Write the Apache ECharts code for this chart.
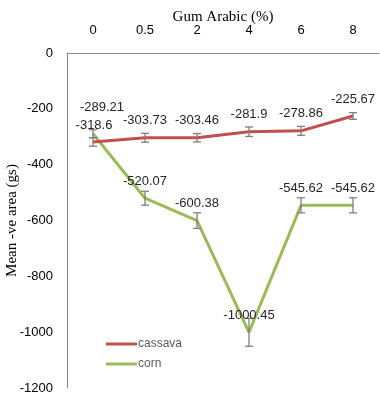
<!DOCTYPE html>
<html>
<head>
<meta charset="utf-8">
<script src="https://cdn.jsdelivr.net/npm/echarts@6/dist/echarts.min.js"></script>
<style>
  html, body { margin: 0; padding: 0; background: #fff; }
  #chart { width: 380px; height: 400px; }
</style>
</head>
<body>
<div id="chart"></div>
<script>
// Gum Arabic levels (%)
const categories = ['0', '0.5', '2', '4', '6', '8']
const cassava = [-318.6, -303.73, -303.46, -281.9, -278.86, -225.67]
const corn = [-289.21, -520.07, -600.38, -1000.45, -545.62, -545.62]
// error bar half-widths
const cassavaErr = [15, 16, 15, 17, 16, 12]
const cornErr = [14, 25, 28, 50, 27, 27]

const chart = echarts.init(document.getElementById('chart'))

// error bars + value labels, drawn through the axes
function errorSeries(values, errs, labelShift) {
  return {
    type: 'custom',
    z: 5,
    silent: true,
    data: values.map((v, i) => [i, v - errs[i], v + errs[i], v]),
    renderItem(params, api) {
      const lo = api.coord([api.value(0), api.value(1)])
      const hi = api.coord([api.value(0), api.value(2)])
      const pt = api.coord([api.value(0), api.value(3)])
      const shift = labelShift[params.dataIndex] || [0, 0]
      const w = 4
      const style = { stroke: '#7f7f7f', lineWidth: 1.3 }
      return {
        type: 'group',
        children: [
          { type: 'line', shape: { x1: hi[0], y1: hi[1], x2: lo[0], y2: lo[1] }, style },
          { type: 'line', shape: { x1: hi[0] - w, y1: hi[1], x2: hi[0] + w, y2: hi[1] }, style },
          { type: 'line', shape: { x1: lo[0] - w, y1: lo[1], x2: lo[0] + w, y2: lo[1] }, style },
          {
            type: 'text',
            x: pt[0] + shift[0],
            y: pt[1] - 17 + shift[1],
            style: {
              text: String(api.value(3)),
              fill: '#262626',
              font: '13px "Liberation Sans"',
              align: 'center',
              verticalAlign: 'middle'
            }
          }
        ]
      }
    }
  }
}

chart.setOption({
  animation: false,
  grid: { left: 67, right: 1, top: 53, bottom: 12, containLabel: false, outerBoundsMode: 'none' },
  legend: {
    left: 101,
    top: 333,
    orient: 'vertical',
    itemWidth: 31,
    itemHeight: 3,
    itemGap: 8,
    icon: 'rect',
    textStyle: { color: '#595959', fontSize: 12, fontFamily: 'Liberation Sans', padding: [0, 0, 0, -4] },
    data: ['cassava', 'corn']
  },
  xAxis: {
    type: 'category',
    position: 'top',
    data: categories,
    boundaryGap: true,
    name: 'Gum Arabic (%)',
    nameLocation: 'middle',
    nameGap: 28,
    nameMoveOverlap: false,
    nameTextStyle: { fontFamily: 'Liberation Serif', fontSize: 15, color: '#000' },
    axisLine: { lineStyle: { color: '#868686', width: 1 } },
    axisTick: { show: false },
    axisLabel: { color: '#000', fontSize: 13, fontFamily: 'Liberation Sans', margin: 16 },
    splitLine: { show: false }
  },
  yAxis: {
    type: 'value',
    min: -1200,
    max: 0,
    interval: 200,
    name: 'Mean -ve area (gs)',
    nameLocation: 'middle',
    nameGap: 47,
    nameMoveOverlap: false,
    nameRotate: 90,
    nameTextStyle: { fontFamily: 'Liberation Serif', fontSize: 15, color: '#000' },
    axisLine: { show: true, lineStyle: { color: '#868686', width: 1 } },
    axisTick: { show: false },
    axisLabel: { color: '#000', fontSize: 13, fontFamily: 'Liberation Sans', margin: 14, formatter: v => String(v) },
    splitLine: { show: false }
  },
  series: [
    {
      name: 'cassava',
      type: 'line',
      data: cassava,
      symbol: 'none',
      color: '#c0504d',
      lineStyle: { width: 3, color: '#c0504d' },
      z: 3
    },
    {
      name: 'corn',
      type: 'line',
      data: corn,
      symbol: 'none',
      color: '#9bbb59',
      lineStyle: { width: 3, color: '#9bbb59' },
      z: 2
    },
    errorSeries(cassava, cassavaErr, { 0: [1, 0] }),
    errorSeries(corn, cornErr, { 0: [9, -9] })
  ]
})
</script>
</body>
</html>
